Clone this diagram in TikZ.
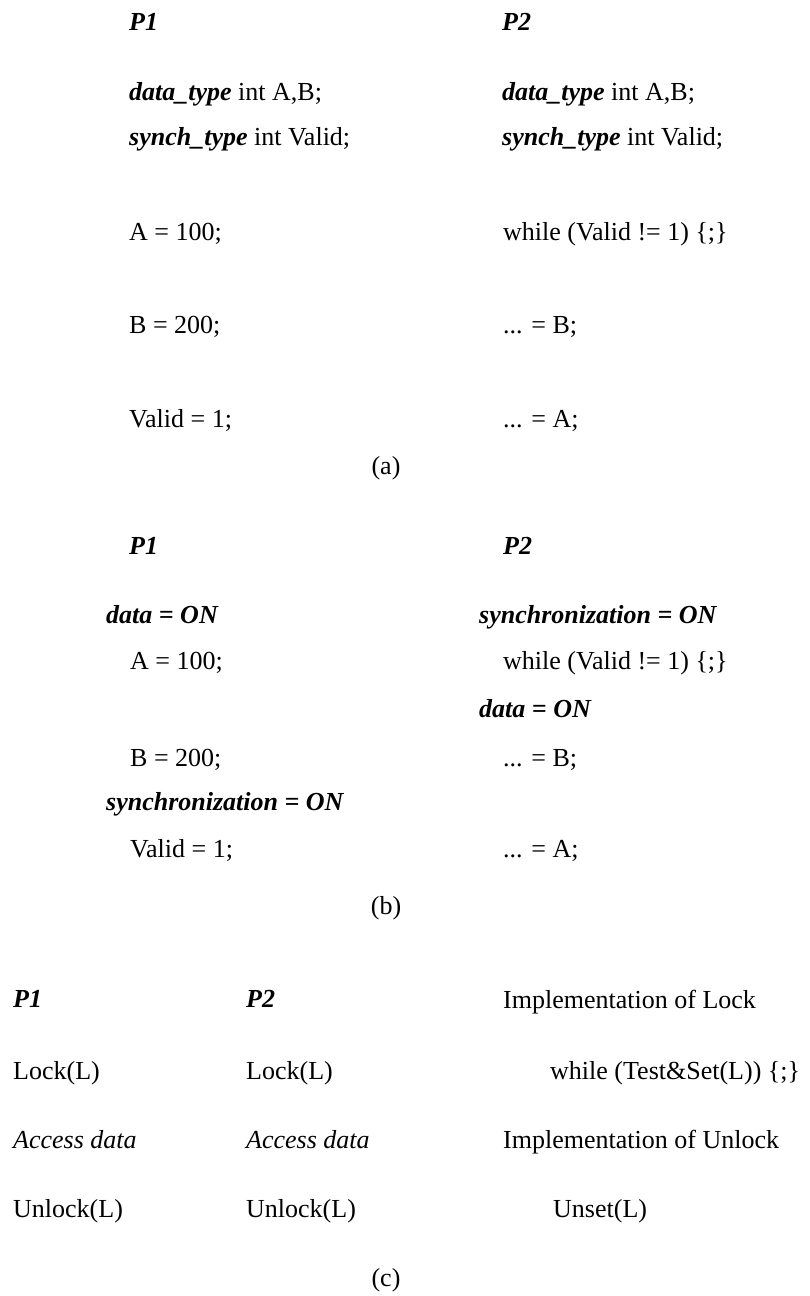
\documentclass[tikz,border=0pt]{standalone}
\usepackage{fontspec}
\setmainfont{Liberation Serif}
\usetikzlibrary{positioning}

\begin{document}
\begin{tikzpicture}[x=1pt, y=-1pt,
    txt/.style={anchor=base west, inner sep=0pt, font=\fontsize{26}{31}\selectfont},
    kw/.style={txt, font=\fontsize{26}{31}\selectfont\bfseries\itshape},
    subcap/.style={anchor=base, inner sep=0pt, font=\fontsize{26}{31}\selectfont}]
    \useasboundingbox (0,0) rectangle (810,1296);

    \node[kw] (p1a) at (129,30) {P1};
    \node[kw] (p2a) at (502,30) {P2};
    \node[txt] (data1a) at (129,100) {\textbf{\textit{data\_type}} int A,B;};
    \node[txt] (synch1a) at (129,145) {\textbf{\textit{synch\_type}} int Valid;};
    \node[txt] (data2a) at (502,100) {\textbf{\textit{data\_type}} int A,B;};
    \node[txt] (synch2a) at (502,145) {\textbf{\textit{synch\_type}} int Valid;};
    \node[txt] (seta) at (129,240) {A = 100;};
    \node[txt] (setb) at (129,333) {B = 200;};
    \node[txt] (setv) at (129,427) {Valid = 1;};
    \node[txt] (waita) at (503,240) {while (Valid != 1) \{;\}};
    \node[txt] (readb) at (503,333) {... = B;};
    \node[txt] (reada) at (503,427) {... = A;};
    \node[subcap] (capa) at (386,474) {(a)};

    \node[kw] (p1b) at (129,554) {P1};
    \node[kw] (p2b) at (503,554) {P2};
    \node[kw] (don1) at (106,623) {data = ON};
    \node[txt] (setab) at (130,669) {A = 100;};
    \node[txt] (setbb) at (130,766) {B = 200;};
    \node[kw] (son1) at (106,810) {synchronization = ON};
    \node[txt] (setvb) at (130,857) {Valid = 1;};
    \node[kw] (son2) at (479,623) {synchronization = ON};
    \node[txt] (waitb) at (503,669) {while (Valid != 1) \{;\}};
    \node[kw] (don2) at (479,717) {data = ON};
    \node[txt] (readbb) at (503,766) {... = B;};
    \node[txt] (readab) at (503,857) {... = A;};
    \node[subcap] (capb) at (386,914) {(b)};

    \node[kw] (p1c) at (13,1007) {P1};
    \node[kw] (p2c) at (246,1007) {P2};
    \node[txt] (impl) at (503,1008) {Implementation of Lock};
    \node[txt] (lock1) at (13,1079) {Lock(L)};
    \node[txt] (lock2) at (246,1079) {Lock(L)};
    \node[txt] (tas) at (550,1079) {while (Test\&Set(L)) \{;\}};
    \node[txt, font=\fontsize{26}{31}\selectfont\itshape] (acc1) at (13,1148) {Access data};
    \node[txt, font=\fontsize{26}{31}\selectfont\itshape] (acc2) at (246,1148) {Access data};
    \node[txt] (implu) at (503,1148) {Implementation of Unlock};
    \node[txt] (unlock1) at (13,1217) {Unlock(L)};
    \node[txt] (unlock2) at (246,1217) {Unlock(L)};
    \node[txt] (unset) at (553,1217) {Unset(L)};
    \node[subcap] (capc) at (386,1286) {(c)};
\end{tikzpicture}
\end{document}
